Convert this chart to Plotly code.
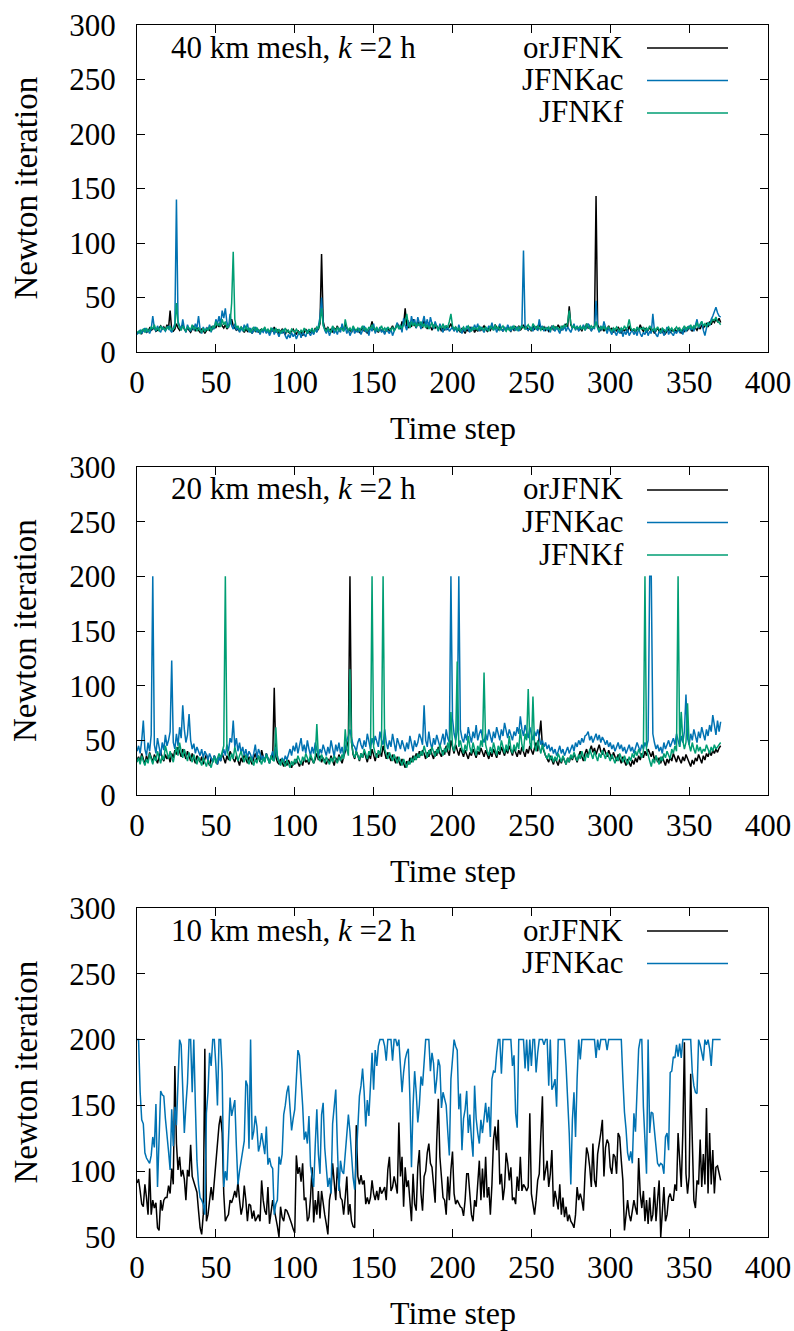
import plotly.graph_objects as go

# ---------------------------------------------------------------------------
# Newton iterations per time step (time step index = list position)
# ---------------------------------------------------------------------------

# 40 km mesh
or40 = [
    17, 18, 19, 17, 20, 21, 18, 19, 22, 20, 21, 23, 19, 20, 22, 24, 21, 23, 20, 25,
    22, 38, 20, 19, 21, 26, 22, 20, 23, 25, 21, 19, 22, 20, 18, 21, 24, 19, 22, 20,
    18, 21, 20, 17, 19, 22, 20, 23, 21, 24, 22, 26, 23, 28, 24, 22, 25, 21, 23, 27,
    30, 24, 22, 20, 21, 19, 23, 20, 18, 21, 19, 22, 20, 17, 21, 19, 22, 18, 20, 21,
    19, 22, 18, 20, 17, 21, 19, 23, 18, 20, 17, 19, 21, 18, 16, 20, 18, 17, 19, 21,
    18, 16, 20, 17, 19, 15, 18, 21, 17, 19, 18, 20, 17, 22, 19, 21, 26, 90, 28, 22,
    20, 23, 19, 21, 18, 22, 20, 24, 19, 21, 23, 20, 26, 22, 19, 21, 18, 22, 20, 19,
    21, 18, 20, 23, 19, 21, 17, 20, 22, 28, 21, 19, 20, 18, 22, 19, 21, 17, 20, 22,
    19, 21, 24, 20, 22, 26, 23, 21, 28, 25, 40, 24, 22, 27, 23, 30, 25, 22, 28, 24,
    26, 22, 29, 24, 21, 27, 23, 20, 25, 22, 24, 21, 23, 19, 22, 20, 24, 21, 23, 26,
    22, 20, 23, 19, 21, 18, 22, 20, 17, 21, 19, 23, 20, 22, 18, 21, 19, 23, 20, 22,
    24, 21, 19, 22, 20, 23, 21, 25, 22, 20, 24, 21, 19, 22, 20, 23, 21, 19, 22, 20,
    23, 21, 24, 20, 22, 25, 21, 23, 20, 22, 19, 24, 21, 23, 20, 26, 22, 21, 23, 20,
    22, 19, 21, 24, 20, 23, 21, 25, 22, 20, 24, 22, 26, 23, 42, 25, 22, 24, 21, 23,
    20, 22, 19, 24, 21, 26, 22, 23, 20, 22, 24, 143, 25, 22, 20, 23, 19, 22, 21, 24,
    20, 22, 18, 21, 19, 23, 20, 17, 21, 19, 22, 18, 24, 20, 19, 21, 18, 22, 20, 25,
    21, 19, 22, 18, 20, 23, 19, 21, 17, 20, 22, 19, 21, 18, 20, 17, 19, 21, 18, 20,
    19, 21, 18, 22, 20, 17, 21, 19, 22, 20, 23, 21, 19, 24, 22, 20, 23, 21, 25, 22,
    24, 26, 23, 28, 25, 29, 27, 30, 28, 31, 27,
]
ac40 = [
    16, 18, 20, 17, 19, 22, 18, 20, 17, 21, 33, 22, 19, 24, 20, 18, 23, 21, 19, 22,
    24, 20, 18, 22, 26, 140, 28, 24, 20, 30, 22, 18, 25, 21, 19, 24, 20, 26, 22, 33,
    21, 17, 23, 19, 22, 20, 25, 18, 24, 21, 30, 26, 33, 25, 38, 31, 40, 27, 22, 35,
    24, 21, 26, 20, 23, 18, 22, 19, 25, 21, 26, 18, 22, 17, 20, 23, 18, 21, 16, 20,
    18, 21, 17, 20, 15, 19, 22, 16, 20, 18, 14, 19, 17, 21, 15, 12, 16, 13, 18, 14,
    17, 12, 15, 19, 13, 18, 16, 14, 20, 17, 15, 19, 16, 21, 18, 24, 32, 50, 26, 20,
    17, 21, 15, 19, 23, 17, 20, 16, 22, 18, 26, 19, 23, 17, 21, 15, 19, 22, 17, 20,
    18, 22, 16, 20, 24, 18, 21, 15, 23, 19, 26, 17, 21, 19, 23, 18, 20, 16, 22, 19,
    17, 21, 15, 19, 23, 27, 21, 25, 18, 31, 24, 20, 29, 22, 33, 26, 30, 22, 32, 25,
    21, 27, 33, 24, 30, 22, 32, 26, 21, 28, 24, 19, 26, 22, 18, 24, 20, 23, 19, 21,
    23, 19, 22, 18, 25, 20, 17, 22, 19, 24, 21, 18, 23, 20, 25, 21, 26, 19, 23, 20,
    18, 22, 20, 24, 21, 27, 20, 23, 18, 22, 26, 21, 19, 23, 20, 25, 22, 19, 24, 21,
    20, 23, 19, 22, 25, 93, 24, 21, 20, 23, 22, 19, 24, 21, 20, 30, 22, 24, 19, 23,
    20, 22, 18, 24, 21, 19, 23, 20, 17, 22, 20, 24, 19, 23, 21, 18, 22, 26, 20, 24,
    19, 23, 21, 25, 20, 22, 26, 24, 19, 23, 21, 47, 22, 18, 24, 20, 28, 21, 17, 22,
    19, 16, 21, 18, 15, 20, 17, 22, 14, 19, 16, 21, 15, 18, 20, 16, 19, 15, 22, 17,
    14, 18, 16, 21, 15, 19, 17, 35, 20, 16, 14, 19, 17, 21, 15, 18, 23, 16, 20, 17,
    15, 19, 17, 21, 18, 20, 16, 22, 19, 21, 24, 20, 23, 19, 25, 30, 22, 26, 28, 20,
    15, 22, 27, 24, 30, 33, 38, 41, 36, 33, 32,
]
f40 = [
    18, 19, 17, 20, 21, 18, 22, 19, 20, 23, 21, 25, 20, 22, 19, 24, 21, 22, 20, 23,
    21, 24, 20, 22, 23, 45, 26, 22, 20, 24, 21, 19, 23, 22, 20, 25, 21, 23, 19, 22,
    20, 18, 22, 19, 21, 20, 23, 19, 24, 22, 28, 24, 26, 23, 30, 25, 28, 22, 24, 26,
    45, 92, 30, 22, 24, 20, 23, 21, 19, 24, 20, 22, 18, 21, 23, 19, 22, 20, 18, 21,
    20, 23, 19, 21, 18, 22, 20, 19, 22, 18, 21, 17, 20, 19, 22, 18, 20, 17, 21, 19,
    18, 21, 19, 17, 20, 18, 22, 19, 17, 21, 19, 22, 18, 20, 23, 21, 28, 40, 24, 21,
    19, 22, 20, 18, 24, 21, 19, 23, 20, 22, 21, 19, 30, 23, 20, 22, 19, 24, 21, 20,
    22, 19, 21, 24, 20, 22, 19, 23, 21, 25, 22, 20, 23, 19, 21, 24, 20, 22, 19, 23,
    21, 20, 23, 19, 22, 25, 21, 24, 22, 26, 28, 35, 25, 22, 28, 24, 27, 23, 26, 24,
    28, 23, 26, 22, 25, 21, 24, 27, 22, 25, 23, 20, 24, 22, 26, 21, 24, 23, 28, 35,
    24, 21, 23, 20, 22, 19, 21, 23, 20, 22, 24, 21, 19, 23, 21, 22, 20, 24, 21, 22,
    20, 23, 21, 19, 24, 22, 20, 25, 21, 23, 20, 22, 24, 21, 19, 22, 20, 23, 21, 24,
    22, 20, 23, 21, 24, 22, 21, 23, 25, 22, 20, 26, 23, 21, 24, 22, 20, 23, 21, 22,
    21, 23, 20, 22, 24, 21, 23, 22, 20, 24, 22, 25, 23, 27, 38, 26, 22, 24, 21, 23,
    22, 24, 21, 23, 20, 26, 23, 21, 24, 22, 23, 28, 22, 20, 23, 21, 24, 20, 22, 23,
    21, 19, 22, 20, 23, 21, 19, 22, 20, 24, 21, 23, 30, 22, 20, 21, 19, 23, 20, 22,
    21, 23, 19, 22, 20, 24, 21, 19, 22, 20, 23, 21, 18, 22, 20, 19, 21, 23, 20, 22,
    19, 21, 23, 20, 22, 19, 21, 24, 20, 23, 22, 25, 21, 24, 22, 27, 23, 25, 28, 24,
    26, 23, 27, 25, 28, 30, 29, 32, 28, 27, 25,
]

# 20 km mesh
or20 = [
    32, 35, 30, 38, 33, 28, 36, 31, 39, 34, 30, 37, 33, 29, 35, 40, 34, 31, 37, 33,
    36, 30, 38, 34, 41, 37, 44, 39, 35, 42, 38, 33, 40, 36, 31, 38, 34, 29, 36, 33,
    30, 35, 28, 33, 37, 31, 27, 34, 30, 36, 32, 28, 35, 31, 38, 33, 29, 36, 32, 40,
    37, 33, 30, 36, 31, 27, 34, 30, 37, 33, 29, 35, 31, 28, 34, 38, 32, 36, 30, 41,
    35, 31, 38, 33, 29, 36, 32, 98, 35, 30, 28, 33, 30, 26, 31, 27, 32, 29, 25, 30,
    28, 33, 29, 26, 31, 27, 34, 30, 32, 28, 35, 31, 29, 33, 38, 32, 36, 30, 34, 31,
    28, 33, 30, 36, 31, 27, 34, 30, 37, 32, 29, 35, 39, 44, 50, 200, 48, 37, 33, 40,
    36, 31, 38, 34, 40, 35, 30, 37, 33, 42, 36, 31, 38, 34, 40, 35, 45, 38, 33, 39,
    35, 31, 37, 33, 29, 35, 31, 27, 33, 29, 25, 31, 28, 34, 30, 36, 32, 38, 34, 40,
    36, 41, 38, 33, 39, 35, 42, 37, 33, 40, 36, 44, 38, 35, 41, 37, 45, 40, 36, 50,
    44, 38, 46, 40, 36, 43, 38, 35, 41, 37, 33, 39, 36, 42, 38, 34, 40, 37, 43, 39,
    35, 41, 37, 33, 39, 35, 42, 38, 34, 40, 37, 44, 39, 36, 42, 38, 45, 40, 36, 43,
    38, 35, 41, 37, 44, 39, 35, 42, 38, 45, 41, 37, 43, 48, 40, 52, 68, 44, 39, 36,
    33, 30, 36, 32, 28, 34, 30, 27, 33, 29, 35, 31, 28, 34, 30, 36, 32, 38, 34, 30,
    36, 40, 35, 31, 38, 42, 36, 40, 45, 39, 43, 37, 41, 46, 40, 37, 43, 39, 35, 41,
    37, 33, 39, 35, 31, 37, 33, 29, 35, 31, 27, 33, 29, 26, 32, 28, 34, 30, 36, 32,
    38, 34, 40, 36, 42, 38, 35, 40, 32, 36, 30, 34, 29, 35, 31, 27, 33, 29, 35, 31,
    38, 34, 30, 36, 32, 29, 35, 31, 37, 33, 29, 26, 32, 28, 34, 31, 37, 33, 29, 36,
    32, 38, 35, 40, 36, 41, 38, 42, 39, 43, 45,
]
ac20 = [
    40, 45, 38, 50, 68, 42, 36, 48, 40, 55, 200, 46, 38, 52, 44, 36, 48, 41, 55, 45,
    50, 58, 123, 48, 42, 56, 45, 62, 52, 82, 60, 48, 55, 74, 50, 42, 47, 38, 44, 40,
    36, 42, 34, 40, 37, 32, 38, 34, 30, 36, 33, 28, 35, 31, 38, 42, 36, 46, 40, 52,
    48, 68, 44, 52, 40, 48, 38, 44, 36, 42, 34, 40, 37, 32, 38, 46, 34, 42, 38, 32,
    36, 30, 38, 34, 29, 35, 40, 32, 44, 36, 30, 28, 34, 30, 36, 32, 38, 42, 36, 45,
    40, 48, 38, 44, 52, 40, 46, 38, 50, 42, 36, 44, 38, 48, 40, 35, 42, 38, 46, 40,
    36, 44, 38, 50, 42, 35, 46, 40, 48, 38, 44, 36, 42, 50, 54, 60, 52, 46, 44, 40,
    48, 52, 46, 42, 50, 44, 56, 48, 42, 52, 46, 54, 48, 44, 58, 50, 46, 60, 48, 42,
    50, 44, 56, 46, 40, 52, 46, 42, 50, 44, 40, 48, 42, 54, 46, 40, 50, 44, 48, 56,
    52, 46, 82, 50, 44, 58, 48, 42, 52, 46, 55, 48, 44, 50, 56, 46, 60, 52, 48, 200,
    70, 56, 50, 58, 200, 60, 52, 48, 56, 50, 62, 54, 48, 58, 52, 64, 50, 56, 60, 52,
    48, 56, 50, 60, 54, 48, 58, 52, 62, 56, 50, 60, 54, 66, 58, 52, 60, 54, 50, 58,
    54, 62, 56, 72, 60, 54, 64, 58, 52, 62, 56, 50, 58, 54, 60, 52, 46, 50, 44, 48,
    42, 46, 40, 44, 38, 42, 36, 40, 45, 38, 42, 36, 40, 44, 38, 42, 46, 40, 48, 44,
    50, 46, 52, 48, 54, 55, 58, 50, 54, 48, 52, 56, 50, 55, 48, 53, 50, 46, 50, 44,
    48, 42, 46, 40, 44, 48, 42, 46, 40, 44, 38, 42, 46, 40, 44, 38, 42, 48, 44, 40,
    46, 42, 48, 44, 50, 200, 200, 56, 48, 42, 46, 40, 44, 38, 48, 42, 46, 50, 44, 48,
    52, 46, 56, 50, 44, 54, 48, 58, 92, 52, 46, 56, 50, 60, 54, 48, 58, 52, 62, 56,
    50, 60, 54, 64, 58, 73, 62, 55, 68, 58, 67,
]
f20 = [
    30, 34, 28, 36, 31, 27, 33, 29, 38, 32, 28, 35, 31, 40, 34, 29, 36, 32, 45, 38,
    33, 40, 35, 30, 38, 44, 36, 48, 40, 34, 42, 37, 31, 39, 35, 30, 37, 33, 28, 35,
    31, 27, 34, 30, 26, 32, 29, 25, 31, 35, 29, 33, 38, 34, 40, 45, 200, 42, 36, 31,
    38, 33, 44, 37, 31, 36, 40, 34, 30, 37, 33, 28, 35, 31, 27, 33, 29, 36, 32, 28,
    34, 30, 37, 33, 29, 36, 32, 31, 62, 34, 30, 27, 33, 29, 26, 32, 28, 25, 31, 27,
    33, 29, 36, 32, 28, 35, 31, 38, 34, 30, 37, 33, 29, 36, 65, 34, 31, 37, 33, 29,
    35, 31, 28, 34, 30, 36, 32, 29, 35, 31, 37, 33, 60, 42, 36, 115, 48, 38, 34, 40,
    36, 32, 38, 34, 42, 37, 33, 40, 36, 200, 44, 38, 34, 41, 37, 46, 200, 42, 37, 33,
    39, 35, 31, 37, 33, 29, 35, 31, 27, 33, 29, 25, 31, 28, 34, 30, 36, 32, 38, 34,
    40, 36, 45, 38, 34, 41, 37, 44, 39, 35, 42, 38, 46, 40, 36, 43, 39, 48, 41, 76,
    45, 40, 48, 122, 44, 50, 42, 38, 46, 40, 54, 44, 38, 48, 42, 36, 45, 40, 50, 44,
    112, 46, 40, 36, 44, 38, 48, 42, 36, 45, 40, 50, 44, 38, 46, 40, 54, 42, 38, 46,
    40, 48, 42, 60, 46, 40, 56, 50, 97, 48, 42, 90, 46, 40, 50, 44, 38, 46, 40, 36,
    33, 38, 32, 36, 30, 35, 31, 38, 34, 30, 36, 32, 28, 34, 30, 37, 33, 39, 35, 31,
    37, 33, 40, 36, 31, 38, 34, 42, 37, 33, 40, 36, 31, 38, 34, 41, 37, 33, 39, 35,
    31, 37, 33, 29, 35, 31, 38, 34, 30, 36, 32, 28, 35, 31, 38, 34, 40, 36, 42, 38,
    34, 40, 200, 42, 36, 30, 26, 33, 29, 36, 32, 28, 35, 31, 38, 34, 40, 36, 33, 42,
    38, 45, 40, 200, 44, 76, 50, 42, 48, 84, 46, 40, 48, 42, 38, 46, 40, 44, 38, 42,
    40, 46, 42, 38, 44, 40, 46, 42, 44, 46, 48,
]

# 10 km mesh
or10 = [
    91, 94, 85, 75, 73, 90, 80, 67, 102, 67,
    78, 72, 76, 57, 55, 78, 70, 78, 80, 80,
    89, 83, 102, 90, 180, 121, 101, 111, 96, 101,
    94, 78, 101, 96, 120, 96, 92, 88, 84, 70,
    57, 52, 67, 193, 62, 67, 78, 88, 78, 92,
    106, 124, 135, 142, 129, 83, 62, 65, 67, 78,
    76, 80, 85, 80, 92, 78, 67, 73, 89, 78,
    62, 75, 74, 64, 70, 62, 65, 67, 62, 93,
    78, 70, 67, 88, 60, 70, 78, 71, 65, 58,
    50, 73, 65, 62, 71, 70, 67, 64, 60, 56,
    53, 112, 98, 103, 92, 106, 78, 80, 62, 65,
    80, 103, 61, 78, 67, 85, 64, 85, 75, 67,
    60, 52, 78, 85, 106, 93, 78, 103, 88, 80,
    78, 67, 80, 96, 67, 75, 62, 58, 57, 135,
    96, 90, 97, 90, 93, 75, 80, 75, 80, 93,
    83, 78, 85, 78, 88, 83, 85, 88, 78, 101,
    111, 85, 88, 96, 90, 83, 137, 96, 111, 73,
    103, 88, 93, 78, 62, 98, 75, 70, 103, 116,
    83, 70, 96, 100, 114, 121, 106, 103, 92, 76,
    123, 155, 111, 93, 80, 78, 67, 96, 78, 101,
    115, 83, 75, 78, 75, 73, 72, 66, 78, 98,
    98, 78, 67, 62, 78, 73, 88, 108, 78, 102,
    80, 111, 80, 88, 67, 90, 124, 134, 116, 139,
    90, 98, 78, 88, 114, 106, 93, 103, 78, 80,
    75, 96, 85, 111, 85, 90, 88, 85, 88, 144,
    83, 73, 67, 78, 93, 98, 130, 157, 93, 101,
    108, 88, 98, 116, 73, 85, 78, 71, 90, 67,
    80, 65, 73, 62, 67, 62, 60, 57, 67, 88,
    78, 83, 78, 70, 98, 118, 113, 103, 88, 121,
    93, 88, 113, 120, 129, 139, 96, 118, 124, 121,
    103, 98, 113, 111, 98, 129, 126, 108, 93, 55,
    67, 78, 67, 62, 70, 78, 72, 67, 110, 83,
    72, 85, 62, 78, 60, 80, 62, 67, 88, 62,
    78, 93, 50, 72, 88, 62, 67, 80, 83, 78,
    78, 90, 85, 129, 108, 88, 129, 198, 98, 83,
    96, 174, 124, 78, 72, 93, 90, 124, 88, 113,
    90, 148, 83, 129, 90, 116, 83, 103, 104, 97, 93,
]
ac10 = [
    200, 200, 160, 139, 136, 114, 110, 108, 106, 112,
    126, 118, 151, 88, 120, 161, 158, 157, 140, 129,
    115, 101, 147, 119, 149, 135, 170, 200, 196, 160,
    129, 150, 167, 200, 200, 160, 200, 150, 108, 90,
    80, 78, 75, 67, 144, 160, 190, 180, 200, 200,
    180, 150, 200, 200, 175, 88, 100, 93, 129, 156,
    142, 148, 154, 119, 90, 100, 108, 115, 123, 169,
    165, 117, 200, 124, 130, 142, 134, 115, 120, 129,
    120, 113, 134, 105, 110, 104, 102, 67, 75, 78,
    111, 105, 113, 143, 150, 160, 165, 145, 131, 140,
    147, 170, 192, 188, 172, 150, 124, 130, 121, 142,
    104, 95, 88, 120, 147, 113, 98, 143, 152, 118,
    100, 88, 95, 83, 136, 150, 162, 120, 85, 108,
    100, 98, 115, 126, 143, 130, 110, 95, 86, 110,
    136, 157, 165, 178, 160, 134, 154, 142, 165, 190,
    162, 192, 180, 195, 200, 200, 200, 195, 184, 200,
    200, 200, 184, 200, 200, 195, 200, 182, 160, 175,
    185, 190, 193, 155, 103, 150, 176, 160, 137, 150,
    172, 165, 185, 200, 200, 200, 176, 190, 182, 159,
    170, 185, 180, 148, 160, 155, 150, 130, 112, 170,
    188, 200, 195, 192, 147, 159, 116, 140, 147, 161,
    129, 143, 125, 111, 165, 140, 129, 121, 139, 129,
    140, 152, 137, 149, 126, 170, 176, 175, 190, 200,
    200, 174, 200, 200, 200, 200, 200, 200, 180, 188,
    144, 133, 200, 200, 200, 200, 178, 200, 176, 200,
    180, 200, 200, 175, 190, 200, 200, 200, 196, 200,
    200, 165, 200, 162, 165, 170, 149, 200, 200, 200,
    200, 200, 180, 155, 129, 90, 139, 160, 126, 170,
    200, 185, 200, 200, 200, 200, 200, 200, 200, 200,
    200, 186, 200, 192, 200, 200, 200, 200, 192, 200,
    200, 200, 200, 200, 200, 200, 200, 200, 170, 145,
    132, 114, 108, 115, 106, 144, 130, 165, 193, 200,
    200, 149, 120, 98, 200, 129, 145, 144, 131, 120,
    106, 104, 106, 105, 98, 126, 129, 116, 175, 176,
    187, 186, 196, 187, 197, 186, 200, 200, 200, 200,
    200, 200, 175, 165, 160, 159, 200, 196, 190, 184,
    200, 196, 200, 193, 180, 200, 200, 200, 200, 200, 200,
]

x_ticks = [0, 50, 100, 150, 200, 250, 300, 350, 400]
series_colors = {"orJFNK": "#000000", "JFNKac": "#0072B2", "JFNKf": "#009E73"}

panels = [
    {"title": "40 km mesh, <i>k</i> =2 h", "ymin": 0,
     "series": [("orJFNK", or40), ("JFNKac", ac40), ("JFNKf", f40)]},
    {"title": "20 km mesh, <i>k</i> =2 h", "ymin": 0,
     "series": [("orJFNK", or20), ("JFNKac", ac20), ("JFNKf", f20)]},
    {"title": "10 km mesh, <i>k</i> =2 h", "ymin": 50,
     "series": [("orJFNK", or10), ("JFNKac", ac10)]},
]

# ---------------------------------------------------------------------------
# page geometry (pixels)
# ---------------------------------------------------------------------------
W, H = 794, 1331
ML, MR, MT, MB = 137, 26, 25, 94
PW, PH = W - ML - MR, H - MT - MB
panel_px = [(25, 352), (467, 795), (908, 1237)]   # top / bottom of each frame

FONT = "Liberation Serif"
TICK_SIZE = 31
TITLE_SIZE = 33


def fx(px):
    return (px - ML) / PW


def fy(py):
    return (H - MB - py) / PH


fig = go.Figure()
annotations = []
shapes = []

for i, (panel, (top, bot)) in enumerate(zip(panels, panel_px)):
    n = "" if i == 0 else str(i + 1)
    xref, yref = "x" + n, "y" + n
    for name, vals in panel["series"]:
        fig.add_trace(go.Scatter(
            x=list(range(len(vals))), y=vals, mode="lines", name=name,
            line=dict(color=series_colors[name], width=1.5),
            xaxis=xref, yaxis=yref, showlegend=False, hoverinfo="skip",
        ))

    axis_common = dict(
        showline=True, linecolor="black", linewidth=1.2, mirror="ticks",
        ticks="inside", ticklen=8, tickwidth=1, tickcolor="black",
        showgrid=False, zeroline=False,
        tickfont=dict(family=FONT, size=TICK_SIZE, color="black"),
    )
    fig.layout["xaxis" + n] = dict(
        axis_common, domain=[0, 1], range=[0, 400], tickvals=x_ticks,
        anchor=yref, ticklabelstandoff=3,
    )
    fig.layout["yaxis" + n] = dict(
        axis_common, domain=[fy(bot), fy(top)], range=[panel["ymin"], 300],
        dtick=50, tick0=0, anchor=xref, ticklabelstandoff=14,
    )

    # axis titles
    annotations.append(dict(
        text="Newton iteration", textangle=-90, xref="paper", yref="paper",
        x=fx(25), y=fy((top + bot) / 2), xanchor="center", yanchor="middle",
        showarrow=False, font=dict(family=FONT, size=TITLE_SIZE, color="black"),
    ))
    annotations.append(dict(
        text="Time step", xref="paper", yref="paper",
        x=fx((ML + W - MR) / 2), y=fy(bot + 76), xanchor="center",
        yanchor="middle", showarrow=False,
        font=dict(family=FONT, size=TITLE_SIZE - 1, color="black"),
    ))
    # panel label
    annotations.append(dict(
        text=panel["title"], xref="paper", yref="paper",
        x=fx(169), y=fy(top + 22), xanchor="left", yanchor="middle",
        showarrow=False, font=dict(family=FONT, size=TICK_SIZE, color="black"),
    ))
    # key: right-aligned label followed by a line sample
    for j, (name, _) in enumerate(panel["series"]):
        row_y = top + 22 + 32.5 * j
        annotations.append(dict(
            text=name, xref="paper", yref="paper", x=fx(626), y=fy(row_y),
            xanchor="right", yanchor="middle", showarrow=False,
            font=dict(family=FONT, size=TICK_SIZE, color="black"),
        ))
        shapes.append(dict(
            type="line", xref="paper", yref="paper",
            x0=fx(647), x1=fx(728), y0=fy(row_y + 1), y1=fy(row_y + 1),
            line=dict(color=series_colors[name], width=1.5),
        ))

fig.update_layout(
    width=W, height=H,
    margin=dict(l=ML, r=MR, t=MT, b=MB, autoexpand=False),
    paper_bgcolor="white", plot_bgcolor="white",
    annotations=annotations, shapes=shapes,
    font=dict(family=FONT, color="black"),
)

fig.write_html("out.html")
